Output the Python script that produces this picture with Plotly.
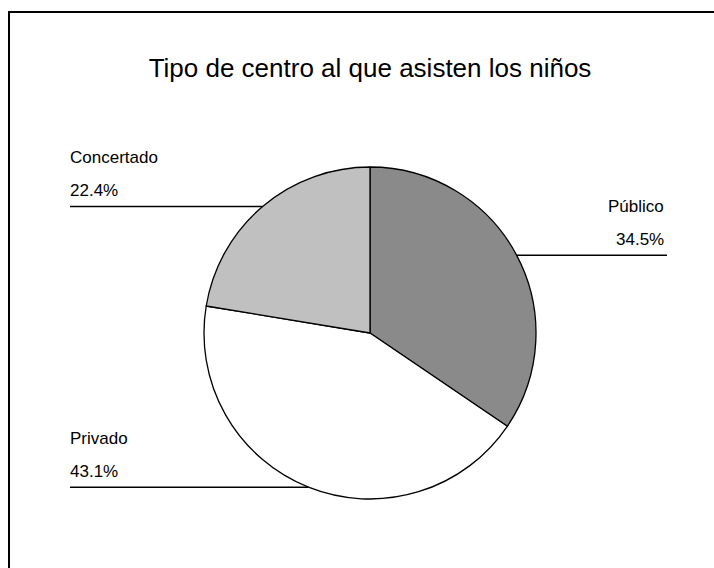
import math
import plotly.graph_objects as go

categories = ["Público", "Privado", "Concertado"]
values = [34.5, 43.1, 22.4]
value_labels = ["34.5%", "43.1%", "22.4%"]
colors = ["#8a8a8a", "#ffffff", "#c0c0c0"]

W, H = 714, 568
cx, cy, r = 370, 333, 166  # pie centre / radius in pixels (from top-left)

fig = go.Figure(go.Pie(
    labels=categories,
    values=values,
    sort=False,
    direction="clockwise",
    rotation=0,
    textinfo="none",
    hoverinfo="label+percent",
    marker=dict(colors=colors, line=dict(color="#000000", width=1.3)),
    domain=dict(x=[(cx - r) / W, (cx + r) / W], y=[(H - cy - r) / H, (H - cy + r) / H]),
    showlegend=False,
))

shapes = [dict(type="rect", xref="paper", yref="paper",
               x0=9 / W, x1=1.02, y0=-0.02, y1=1 - 12 / H,
               line=dict(color="#000000", width=2), fillcolor="rgba(0,0,0,0)")]
annotations = []

total = sum(values)
cum = 0.0
for name, v, lab in zip(categories, values, value_labels):
    mid = (cum + v / 2) / total * 2 * math.pi
    cum += v
    px = cx + r * math.sin(mid)
    py = cy - r * math.cos(mid)
    right = math.sin(mid) > 0
    end_x = 667 if right else 70
    shapes.append(dict(type="line", xref="paper", yref="paper",
                       x0=px / W, x1=end_x / W, y0=1 - py / H, y1=1 - py / H,
                       line=dict(color="#000000", width=1.5)))
    anchor = "right" if right else "left"
    annotations.append(dict(xref="paper", yref="paper", x=end_x / W, y=1 - (py - 49) / H,
                            text=name, showarrow=False, xanchor=anchor, yanchor="middle",
                            xshift=-1 if right else -2,
                            font=dict(size=17, color="#000000")))
    annotations.append(dict(xref="paper", yref="paper", x=end_x / W, y=1 - (py - 16) / H,
                            text=lab, showarrow=False, xanchor=anchor, yanchor="middle",
                            xshift=-1 if right else -2,
                            font=dict(size=17, color="#000000")))

fig.update_layout(
    width=W, height=H,
    margin=dict(l=0, r=0, t=0, b=0),
    paper_bgcolor="#ffffff",
    font=dict(family="Liberation Sans, Arial, sans-serif", color="#000000"),
    title=dict(text="Tipo de centro al que asisten los niños", x=370 / W, xanchor="center",
               y=1 - 68 / H, yanchor="middle", font=dict(size=26, color="#000000")),
    shapes=shapes,
    annotations=annotations,
)

fig.write_html("out.html", config={"displayModeBar": False},
               post_script="document.body.style.margin='0';document.body.style.overflow='hidden';")
